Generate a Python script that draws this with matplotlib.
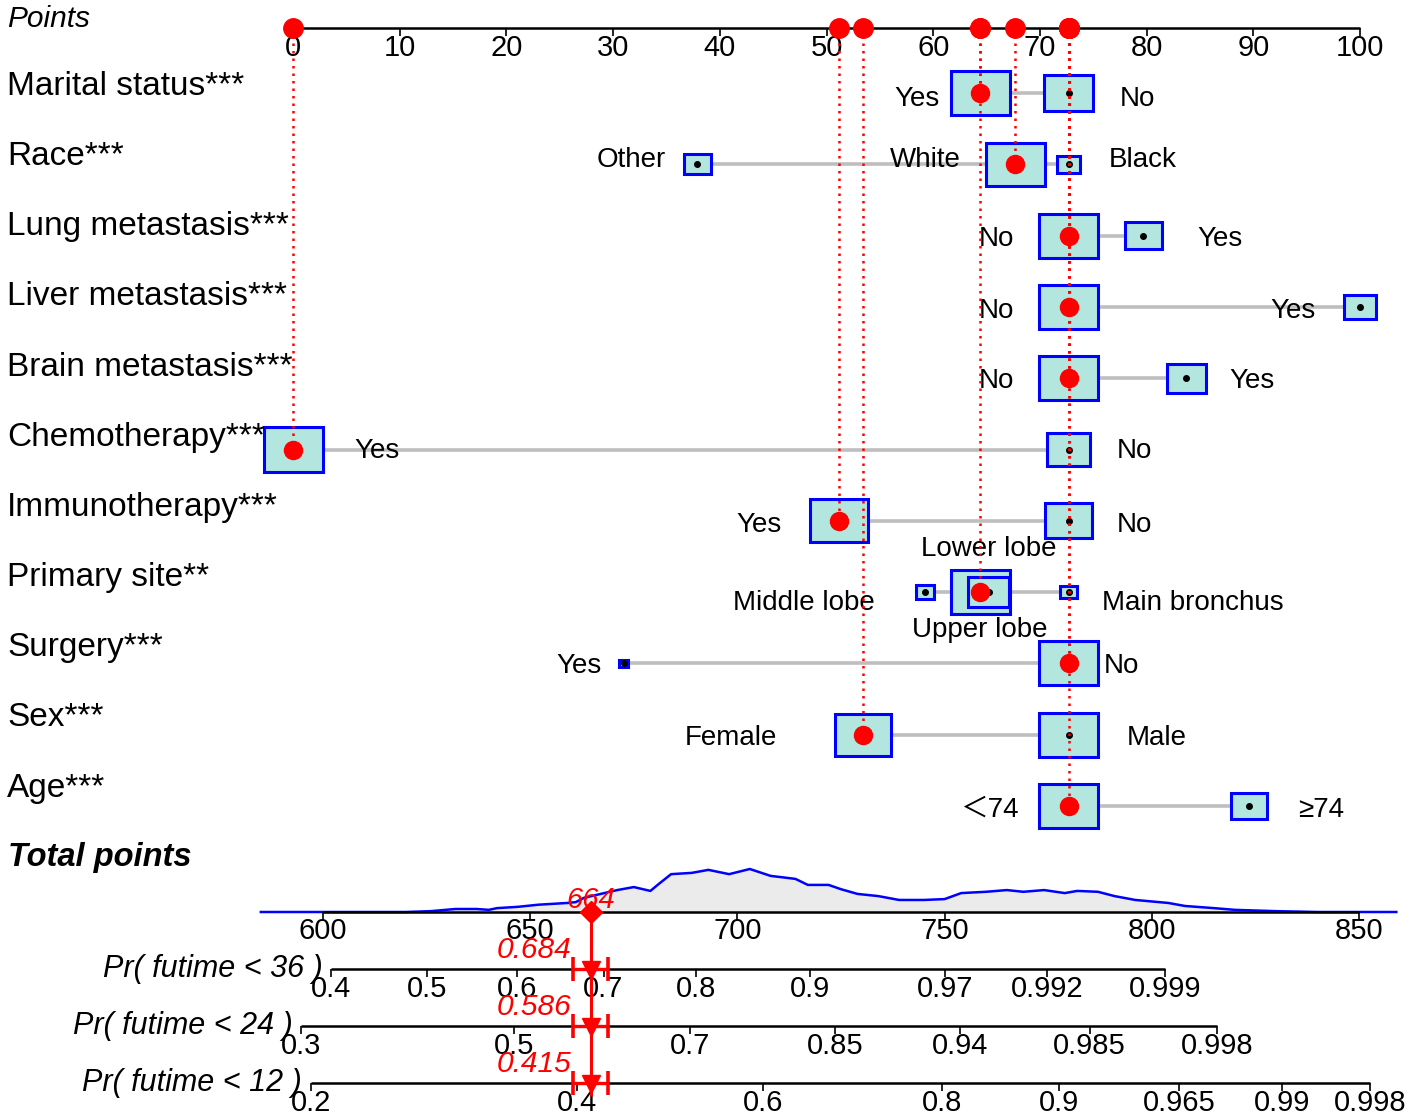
import matplotlib.pyplot as plt
import numpy as np
from matplotlib.patches import Rectangle

plt.rcParams['font.family'] = ['Liberation Sans', 'DejaVu Sans', 'Noto Sans CJK SC']

# ---------------- data ----------------
variables = ["Marital status***", "Race***", "Lung metastasis***", "Liver metastasis***",
             "Brain metastasis***", "Chemotherapy***", "Immunotherapy***", "Primary site**",
             "Surgery***", "Sex***", "Age***"]

levels = [["Yes", "No"],
          ["Other", "White", "Black"],
          ["No", "Yes"],
          ["No", "Yes"],
          ["No", "Yes"],
          ["Yes", "No"],
          ["Yes", "No"],
          ["Middle lobe", "Upper lobe", "Lower lobe", "Main bronchus"],
          ["Yes", "No"],
          ["Female", "Male"],
          ["＜74", "≥74"]]

level_points = [[64.4, 72.7],
                [37.9, 67.7, 72.7],
                [72.7, 79.7],
                [72.7, 100.0],
                [72.7, 83.7],
                [0.0, 72.7],
                [51.2, 72.7],
                [59.2, 64.4, 65.2, 72.7],
                [31.0, 72.7],
                [53.4, 72.7],
                [72.7, 89.6]]

# relative box area (frequency of each level, largest box = 1)
level_freq = [[1.0, 0.69],
              [0.205, 0.98, 0.152],
              [1.0, 0.39],
              [1.0, 0.31],
              [1.0, 0.44],
              [1.0, 0.53],
              [0.97, 0.63],
              [0.093, 1.0, 0.48, 0.083],
              [0.023, 1.0],
              [0.90, 1.0],
              [1.0, 0.37]]

selected = [0, 1, 0, 0, 0, 0, 0, 1, 1, 0, 0]

points_ticks = list(range(0, 101, 10))
total_ticks = [600, 650, 700, 750, 800, 850]

# density of total points in the cohort (relative height)
dens_tp = [585, 620, 626, 632, 637, 640, 642, 647, 652, 659, 661, 663, 667, 671, 675,
           679, 681, 684, 689, 693, 698, 703, 708, 714, 717, 722, 725, 729, 734, 739,
           745, 750, 754, 760, 765, 769, 774, 779, 782, 787, 791, 796, 804, 808, 815,
           820, 830, 840, 859]
dens_val = [0, 0, 0.02, 0.07, 0.07, 0.05, 0.09, 0.12, 0.17, 0.21, 0.23, 0.33, 0.42, 0.51, 0.58,
            0.49, 0.65, 0.88, 0.91, 0.98, 0.88, 1.0, 0.84, 0.77, 0.63, 0.63, 0.53, 0.42, 0.37, 0.28,
            0.28, 0.30, 0.44, 0.47, 0.51, 0.47, 0.51, 0.44, 0.49, 0.47, 0.37, 0.28, 0.21, 0.14, 0.09,
            0.05, 0.02, 0, 0]

pr_labels = ["Pr( futime < 36 )", "Pr( futime < 24 )", "Pr( futime < 12 )"]
pr_tick_labels = [["0.4", "0.5", "0.6", "0.7", "0.8", "0.9", "0.97", "0.992", "0.999"],
                  ["0.3", "0.5", "0.7", "0.85", "0.94", "0.985", "0.998"],
                  ["0.2", "0.4", "0.6", "0.8", "0.9", "0.965", "0.99", "0.998"]]
pr_tick_pos = [[602.0, 625.1, 646.9, 667.7, 690.0, 717.5, 750.1, 774.8, 803.2],
               [594.8, 646.0, 688.6, 723.6, 753.7, 785.0, 815.7],
               [597.1, 661.3, 706.2, 749.4, 777.6, 806.6, 831.4, 852.7]]
pr_values = [0.684, 0.586, 0.415]

# ---------------- layout ----------------
W, H = 1417, 1116
PT_X0, PT_SCALE = 293, 10.67     # pixel of 0 points, pixels per point
TP_X0, TP_SCALE = 323, 4.144     # pixel of 600 total points, pixels per unit
BOX_W = 59                       # px width of the largest box
AXIS_Y = 28
row_y = [93 + 71.3 * i for i in range(len(variables))]
name_y = [95 + 70.15 * i for i in range(len(variables))]
lvl_dy = [13, 3, 10, 11, 10, 8, 11, 18, 10, 10, 11]
label_side = [["L", "R"], ["L", "L", "R"], ["L", "R"], ["L", "L"], ["L", "R"], ["R", "R"],
              ["L", "R"], ["L", "B", "A", "R"], ["L", "R"], ["L", "R"], ["L", "R"]]
label_gap = [[11, 27], [18, 25, 29], [25, 36], [25, 28], [25, 24], [32, 27], [29, 25],
             [41, 45, -36, 25], [18, 6], [58, 29], [21, 31]]
TP_Y = 912
DENS_H = 43
pr_y = [969, 1026, 1083]

BOX_FC = '#B2E6DE'
BLUE = '#0000FF'
GREY = '#BEBEBE'

fig = plt.figure(figsize=(W / 100, H / 100), dpi=100)
ax = fig.add_axes([0, 0, 1, 1])
ax.set_xlim(-PT_X0 / PT_SCALE, (W - PT_X0) / PT_SCALE)
ax.set_ylim(H, 0)
ax.axis('off')

ax2 = fig.add_axes([0, 0, 1, 1])
ax2.set_xlim(600 - TP_X0 / TP_SCALE, 600 + (W - TP_X0) / TP_SCALE)
ax2.set_ylim(H, 0)
ax2.axis('off')
ax2.patch.set_visible(False)

left = ax.get_yaxis_transform()

# Points axis
ax.text(7 / W, 27, "Points", transform=left, style='italic', fontsize=21.5, va='baseline')
ax.hlines(AXIS_Y, points_ticks[0], points_ticks[-1], color='k', lw=1.8, zorder=3)
for t in points_ticks:
    ax.vlines(t, AXIS_Y, AXIS_Y + 8, color='k', lw=1.2, zorder=3)
    ax.text(t, 56, str(t), ha='center', va='baseline', fontsize=21)

# variable rows
for i, var in enumerate(variables):
    y = row_y[i]
    pts = level_points[i]
    ax.text(7 / W, name_y[i], var, transform=left, fontsize=24, va='baseline')
    ax.hlines(y, min(pts), max(pts), color=GREY, lw=2.6, zorder=1)
    for j, lev in enumerate(levels[i]):
        p = pts[j]
        wpx = BOX_W * np.sqrt(level_freq[i][j])
        hpx = wpx * 0.746
        wp = wpx / PT_SCALE
        ax.add_patch(Rectangle((p - wp / 2, y - hpx / 2), wp, hpx, fc=BOX_FC,
                               ec=BLUE, lw=2.2, zorder=2))
        ax.plot(p, y, 'o', color='k', ms=4, zorder=3)
        side, gap = label_side[i][j], label_gap[i][j]
        if side == "L":
            ax.text(p - (wpx / 2 + gap) / PT_SCALE, y + lvl_dy[i], lev, ha='right',
                    va='baseline', fontsize=20)
        elif side == "R":
            ax.text(p + (wpx / 2 + gap) / PT_SCALE, y + lvl_dy[i], lev, ha='left',
                    va='baseline', fontsize=20)
        else:
            ax.text(p, y + gap, lev, ha='center', va='baseline', fontsize=20)
    sel = pts[selected[i]]
    ax.vlines(sel, AXIS_Y, y, colors='red', linestyles=(0, (1, 2)), lw=1.8, zorder=4)
    ax.plot(sel, y, 'o', color='red', ms=13, zorder=5)
    ax.plot(sel, AXIS_Y, 'o', color='red', ms=14, zorder=5)

# Total points
total = sum(level_points[i][selected[i]] for i in range(len(variables)))
ax.text(8 / W, 866, "Total points", transform=left, fontsize=23.5, fontweight='bold',
        style='italic', va='baseline')
dens_y = TP_Y - DENS_H * np.array(dens_val)
ax2.fill_between(dens_tp, TP_Y, dens_y, color='#EBEBEB', lw=0, zorder=1)
ax2.plot(dens_tp, dens_y, color=BLUE, lw=1.8, zorder=2)
ax2.hlines(TP_Y, total_ticks[0], total_ticks[-1], color='k', lw=1.8, zorder=3)
for t in total_ticks:
    ax2.vlines(t, TP_Y, TP_Y + 8, color='k', lw=1.2, zorder=3)
    ax2.text(t, 939, str(t), ha='center', va='baseline', fontsize=21)
ax2.vlines(total, TP_Y, pr_y[-1] + 13, colors='red', lw=2.2, zorder=5)
ax2.plot(total, TP_Y, 'D', color='red', ms=11, zorder=6)
ax2.text(total, TP_Y - 4, str(int(total)), color='red', style='italic', ha='center',
         va='baseline', fontsize=21, zorder=7)

# probability scales
for k, y in enumerate(pr_y):
    pos = pr_tick_pos[k]
    ax2.hlines(y, pos[0], pos[-1], color='k', lw=1.8, zorder=3)
    for t, lab in zip(pos, pr_tick_labels[k]):
        ax2.vlines(t, y, y + 8, color='k', lw=1.2, zorder=3)
        ax2.text(t, y + 28, lab, ha='center', va='baseline', fontsize=21)
    ax2.text(pos[0] - 9 / TP_SCALE, y + 8, pr_labels[k], ha='right', va='baseline',
             style='italic', fontsize=22)
    ax2.errorbar(total, y, xerr=17.5 / TP_SCALE, fmt='none', ecolor='red',
                 elinewidth=2.4, capsize=8.3, capthick=2.6, zorder=6)
    ax2.plot(total, y + 1, 'v', color='red', ms=13, zorder=6)
    ax2.text(total - 19 / TP_SCALE, y - 11, f"{pr_values[k]:.3f}", color='red',
             style='italic', ha='right', va='baseline', fontsize=21.5, zorder=7)

fig.savefig("out.png", dpi=100)
